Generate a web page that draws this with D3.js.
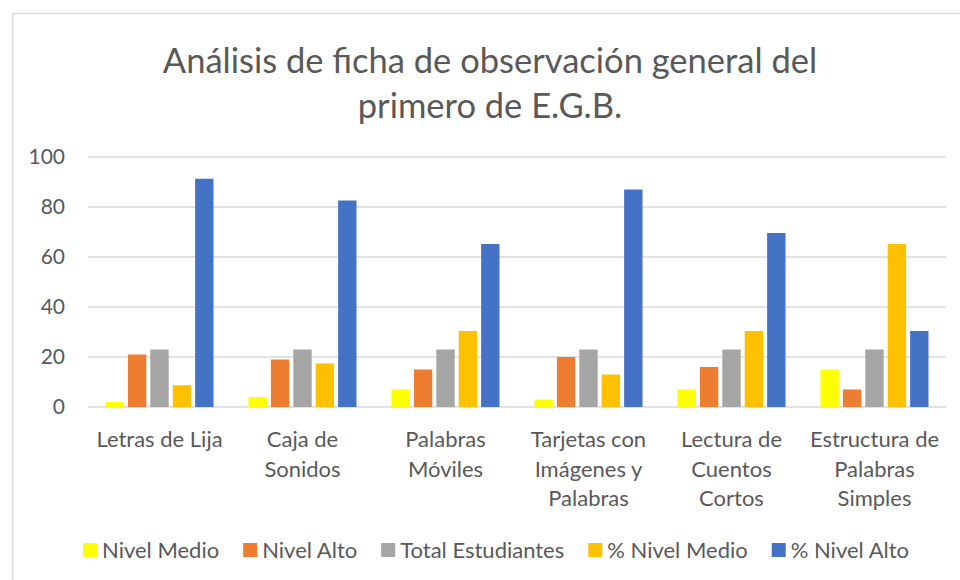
<!DOCTYPE html>
<html><head><meta charset="utf-8">
<script src="https://cdn.jsdelivr.net/npm/d3@7"></script>
<style>body{margin:0;background:#fff}svg{display:block}</style>
</head><body>
<svg id="chart" width="960" height="580"></svg>
<script>
const categories = ["Letras de Lija","Caja de Sonidos","Palabras Móviles","Tarjetas con Imágenes y Palabras","Lectura de Cuentos Cortos","Estructura de Palabras Simples"];
const categoryLines = [["Letras de Lija"],["Caja de","Sonidos"],["Palabras","Móviles"],["Tarjetas con","Imágenes y","Palabras"],["Lectura de","Cuentos","Cortos"],["Estructura de","Palabras","Simples"]];
const seriesNames = ["Nivel Medio","Nivel Alto","Total Estudiantes","% Nivel Medio","% Nivel Alto"];
const nivelMedio = [2,4,7,3,7,15];
const nivelAlto = [21,19,15,20,16,7];
const totalEstudiantes = [23,23,23,23,23,23];
const pctNivelMedio = [8.7,17.4,30.4,13,30.4,65.2];
const pctNivelAlto = [91.3,82.6,65.2,87,69.6,30.4];
const yTicks = [0,20,40,60,80,100];
const colors = ["#FFFF00","#ED7D31","#A5A5A5","#FFC000","#4472C4"];
const titleLines = ["Análisis de ficha de observación general del","primero de E.G.B."];

const seriesValues = [nivelMedio,nivelAlto,totalEstudiantes,pctNivelMedio,pctNivelAlto];
const svg = d3.select("#chart");
const font = "Lato, 'Open Sans', sans-serif";
const textColor = "#595959";

// frame
svg.append("rect").attr("x",12.5).attr("y",13.5).attr("width",1000).attr("height",1000)
  .attr("fill","none").attr("stroke","#d9d9d9").attr("stroke-width",1.5);

// title
const title = svg.append("text").attr("text-anchor","middle").attr("fill",textColor)
  .style("font-family",font).style("font-size","34.5px");
titleLines.forEach((t,i)=>title.append("tspan").attr("x",490).attr("y",73+i*45).text(t));

const x0 = d3.scaleBand().domain(categories).range([88,946]).padding(0);
const x1 = d3.scaleBand().domain(seriesNames).range([17.5, x0.bandwidth()-17.5]).paddingInner(0.18).paddingOuter(0);
const y = d3.scaleLinear().domain([0,100]).range([407,157]);

// gridlines
svg.append("g").selectAll("line").data(yTicks).join("line")
  .attr("x1",88).attr("x2",946).attr("y1",d=>y(d)).attr("y2",d=>y(d))
  .attr("stroke","#d9d9d9").attr("stroke-width",1.3);

// y axis labels
const yAxis = d3.axisLeft(y).tickValues(yTicks).tickSize(0).tickPadding(0);
const gy = svg.append("g").attr("transform","translate(65,0)").call(yAxis);
gy.select(".domain").remove();
gy.selectAll("text").attr("fill",textColor).style("font-family",font).style("font-size","21px");

// bars
const groups = svg.append("g").selectAll("g").data(categories).join("g")
  .attr("transform",d=>`translate(${x0(d)},0)`);
groups.selectAll("rect").data((d,i)=>seriesNames.map((s,j)=>({s,v:seriesValues[j][i],j})))
  .join("rect")
  .attr("x",d=>x1(d.s)).attr("width",x1.bandwidth())
  .attr("y",d=>y(d.v)).attr("height",d=>y(0)-y(d.v))
  .attr("fill",d=>colors[d.j]);

// category labels
const xAxis = d3.axisBottom(x0).tickSize(0).tickFormat(()=>"");
const gx = svg.append("g").attr("transform","translate(0,407)").call(xAxis);
gx.select(".domain").remove();
gx.selectAll(".tick").each(function(d,i){
  const t = d3.select(this).append("text").attr("text-anchor","middle").attr("fill",textColor)
    .style("font-family",font).style("font-size","22px");
  categoryLines[i].forEach((l,k)=>t.append("tspan").attr("x",0).attr("y",40+k*29.5).text(l));
});

// legend
const lg = svg.append("g");
let cx = 0;
seriesNames.forEach((s,i)=>{
  const g = lg.append("g");
  g.append("rect").attr("x",0).attr("y",-7).attr("width",14).attr("height",14).attr("fill",colors[i]);
  const t = g.append("text").attr("x",19).attr("y",7.5).attr("fill",textColor)
    .style("font-family",font).style("font-size","22px").text(s);
  const w = 19 + t.node().getComputedTextLength();
  g.attr("transform",`translate(${cx},0)`);
  cx += w + 24;
});
const totalW = cx - 24;
lg.attr("transform",`translate(${496-totalW/2},550)`);
</script>
</body></html>
